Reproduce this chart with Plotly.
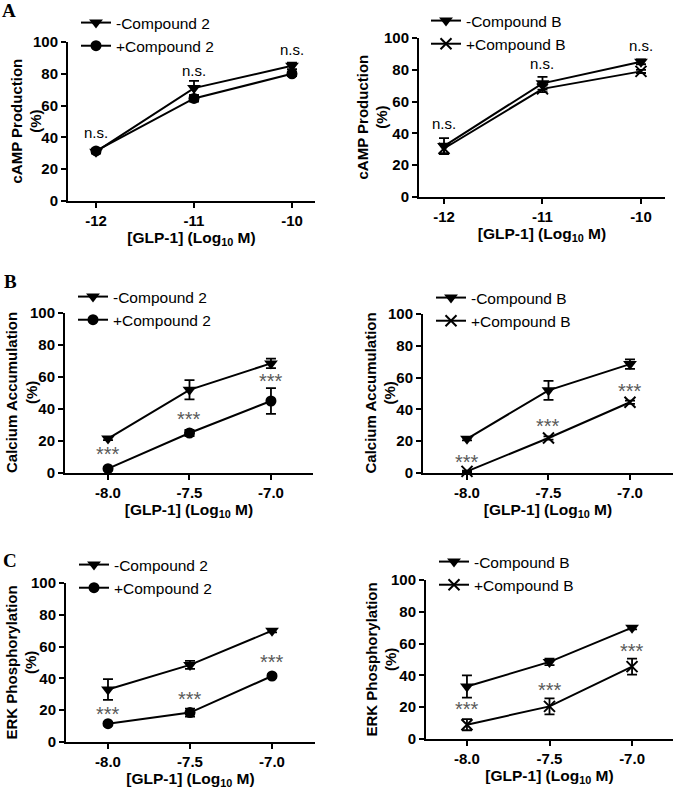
import plotly.graph_objects as go

W, H = 676, 789

# ---------------- data ----------------
x_camp = [-12, -11, -10]
x_camp_labels = ["-12", "-11", "-10"]
x_dose = [-8.0, -7.5, -7.0]
x_dose_labels = ["-8.0", "-7.5", "-7.0"]
y_ticks = [0, 20, 40, 60, 80, 100]

camp_minus_c2 = [31, 71, 85]
camp_minus_c2_err = [1, 4.5, 2]
camp_plus_c2 = [31.5, 64.5, 80]
camp_plus_c2_err = [1.5, 2, 1.5]
camp_minus_cb = [32, 71.5, 85]
camp_minus_cb_err = [5, 4, 1.5]
camp_plus_cb = [30.5, 68, 79]
camp_plus_cb_err = [3, 2, 1]

ca_minus_c2 = [21.5, 52, 68.5]
ca_minus_c2_err = [1, 6, 3]
ca_plus_c2 = [2.7, 25, 45]
ca_plus_c2_err = [1, 2, 8]
ca_minus_cb = [21.5, 52, 68.5]
ca_minus_cb_err = [1, 6, 3]
ca_plus_cb = [1, 22, 44.5]
ca_plus_cb_err = [0.5, 1, 1]

erk_minus_c2 = [33, 48.5, 70]
erk_minus_c2_err = [6.5, 2.5, 1]
erk_plus_c2 = [11.5, 18.5, 41.5]
erk_plus_c2_err = [1, 2.5, 1]
erk_minus_cb = [33, 48.5, 70]
erk_minus_cb_err = [7, 2, 1]
erk_plus_cb = [9, 20.5, 45.5]
erk_plus_cb_err = [3.5, 5, 5]

ns_camp_c2 = [43, 82, 95]
ns_camp_cb = [46, 84, 95.6]
star_ca_c2 = [13, 35, 59]
star_ca_cb = [8, 31, 53]
star_erk_c2 = [19, 28, 51.5]
star_erk_cb = [20, 32, 56.5]

# ---------------- layout geometry (px) ----------------
# (x_left, x_right, y_top, y_bottom, xrange, ytitle_center_x, legend_x, legend_top)
panels = [
    (68, 315, 42, 201, [-12.286, -9.765], 26, 76, 6),
    (419, 665, 38, 197, [-12.254, -9.756], 372, 426, 4),
    (65, 313, 313, 473, [-8.264, -6.742], 22, 73, 280),
    (423, 673, 314, 473, [-8.27, -6.736], 380, 431, 281),
    (66, 315, 583, 742, [-8.256, -6.738], 21, 74, 548),
    (426, 673, 580, 739, [-8.248, -6.752], 381, 434, 545),
]

FONT = "Liberation Sans"

panel_data = [
    dict(x=x_camp, xl=x_camp_labels, ytitle="cAMP Production", comp="2",
         minus=(camp_minus_c2, camp_minus_c2_err), plus=(camp_plus_c2, camp_plus_c2_err),
         ann=ns_camp_c2, anntext="n.s."),
    dict(x=x_camp, xl=x_camp_labels, ytitle="cAMP Production", comp="B",
         minus=(camp_minus_cb, camp_minus_cb_err), plus=(camp_plus_cb, camp_plus_cb_err),
         ann=ns_camp_cb, anntext="n.s."),
    dict(x=x_dose, xl=x_dose_labels, ytitle="Calcium Accumulation", comp="2",
         minus=(ca_minus_c2, ca_minus_c2_err), plus=(ca_plus_c2, ca_plus_c2_err),
         ann=star_ca_c2, anntext="***"),
    dict(x=x_dose, xl=x_dose_labels, ytitle="Calcium Accumulation", comp="B",
         minus=(ca_minus_cb, ca_minus_cb_err), plus=(ca_plus_cb, ca_plus_cb_err),
         ann=star_ca_cb, anntext="***"),
    dict(x=x_dose, xl=x_dose_labels, ytitle="ERK Phosphorylation", comp="2",
         minus=(erk_minus_c2, erk_minus_c2_err), plus=(erk_plus_c2, erk_plus_c2_err),
         ann=star_erk_c2, anntext="***"),
    dict(x=x_dose, xl=x_dose_labels, ytitle="ERK Phosphorylation", comp="B",
         minus=(erk_minus_cb, erk_minus_cb_err), plus=(erk_plus_cb, erk_plus_cb_err),
         ann=star_erk_cb, anntext="***"),
]

fig = go.Figure()
layout = dict(
    template="none",
    width=W, height=H, margin=dict(l=0, r=0, t=0, b=0, autoexpand=False),
    paper_bgcolor="white", plot_bgcolor="white",
    font=dict(family=FONT, color="black"),
    annotations=[],
)

for i, (pd_, geo) in enumerate(zip(panel_data, panels), start=1):
    xl, xr, yt, yb, xrng, ytx, lgx, lgy = geo
    sfx = "" if i == 1 else str(i)
    xa, ya = "x" + sfx, "y" + sfx
    lg = "legend" + sfx
    err_style = dict(type="data", thickness=1.8, width=5, color="black")

    ym, em = pd_["minus"]
    fig.add_trace(go.Scatter(
        x=pd_["x"], y=ym, error_y=dict(array=em, **err_style),
        mode="lines+markers", name="-Compound " + pd_["comp"],
        line=dict(color="black", width=2),
        marker=dict(symbol="triangle-down", size=12, color="black"),
        xaxis=xa, yaxis=ya, legend=lg, cliponaxis=False))
    yp, ep = pd_["plus"]
    if pd_["comp"] == "2":
        mk = dict(symbol="circle", size=11, color="black")
    else:
        mk = dict(symbol="x-thin", size=11, color="black", line=dict(width=2, color="black"))
    fig.add_trace(go.Scatter(
        x=pd_["x"], y=yp, error_y=dict(array=ep, **err_style),
        mode="lines+markers", name="+Compound " + pd_["comp"],
        line=dict(color="black", width=2), marker=mk,
        xaxis=xa, yaxis=ya, legend=lg, cliponaxis=False))

    layout["xaxis" + sfx] = dict(
        domain=[xl / W, xr / W], range=xrng, anchor=ya, automargin=False,
        tickvals=pd_["x"], ticktext=pd_["xl"],
        showline=True, linewidth=2, linecolor="black",
        ticks="outside", ticklen=5, tickwidth=2, tickcolor="black",
        tickfont=dict(family=FONT, size=15, weight="bold"),
        showgrid=False, zeroline=False,
        title=dict(text="<b>[GLP-1] (Log<sub>10</sub> M)</b>",
                   font=dict(family=FONT, size=15.5), standoff=4),
    )
    layout["yaxis" + sfx] = dict(
        domain=[1 - yb / H, 1 - yt / H], range=[0, 100], anchor=xa, automargin=False,
        tickvals=y_ticks,
        showline=True, linewidth=2, linecolor="black",
        ticks="outside", ticklen=5, tickwidth=2, tickcolor="black",
        tickfont=dict(family=FONT, size=15, weight="bold"),
        showgrid=False, zeroline=False,
    )
    layout["annotations"].append(dict(
        x=ytx / W, y=1 - (yt + yb) / 2 / H, xref="paper", yref="paper",
        text="<b>" + pd_["ytitle"] + "<br>(%)</b>", textangle=-90, showarrow=False,
        xanchor="center", yanchor="middle",
        font=dict(family=FONT, size=15, color="black")))
    layout[lg] = dict(
        x=lgx / W, y=1 - lgy / H, xref="container", yref="container",
        xanchor="left", yanchor="top",
        bgcolor="rgba(0,0,0,0)", font=dict(family=FONT, size=15.5),
        tracegroupgap=0, itemwidth=30,
    )
    star = pd_["anntext"] == "***"
    for xv, yv in zip(pd_["x"], pd_["ann"]):
        layout["annotations"].append(dict(
            x=xv, y=yv, xref=xa, yref=ya, text=pd_["anntext"], showarrow=False,
            font=dict(family=FONT, size=20 if star else 15,
                      color="#5a5a5a" if star else "black"),
            xanchor="center", yanchor="middle", yshift=-2 if star else 0))

for letter, lx, ly in [("A", 9, 10), ("B", 10, 282), ("C", 10, 560)]:
    layout["annotations"].append(dict(
        x=lx / W, y=1 - ly / H, xref="paper", yref="paper", text="<b>" + letter + "</b>",
        showarrow=False, xanchor="center", yanchor="middle",
        font=dict(family="Liberation Serif", size=19, color="black")))

fig.update_layout(**layout)
fig.write_html(
    "out.html",
    config={"displayModeBar": False, "staticPlot": True},
    post_script="document.body.style.margin='0';document.body.style.overflow='hidden';",
)
